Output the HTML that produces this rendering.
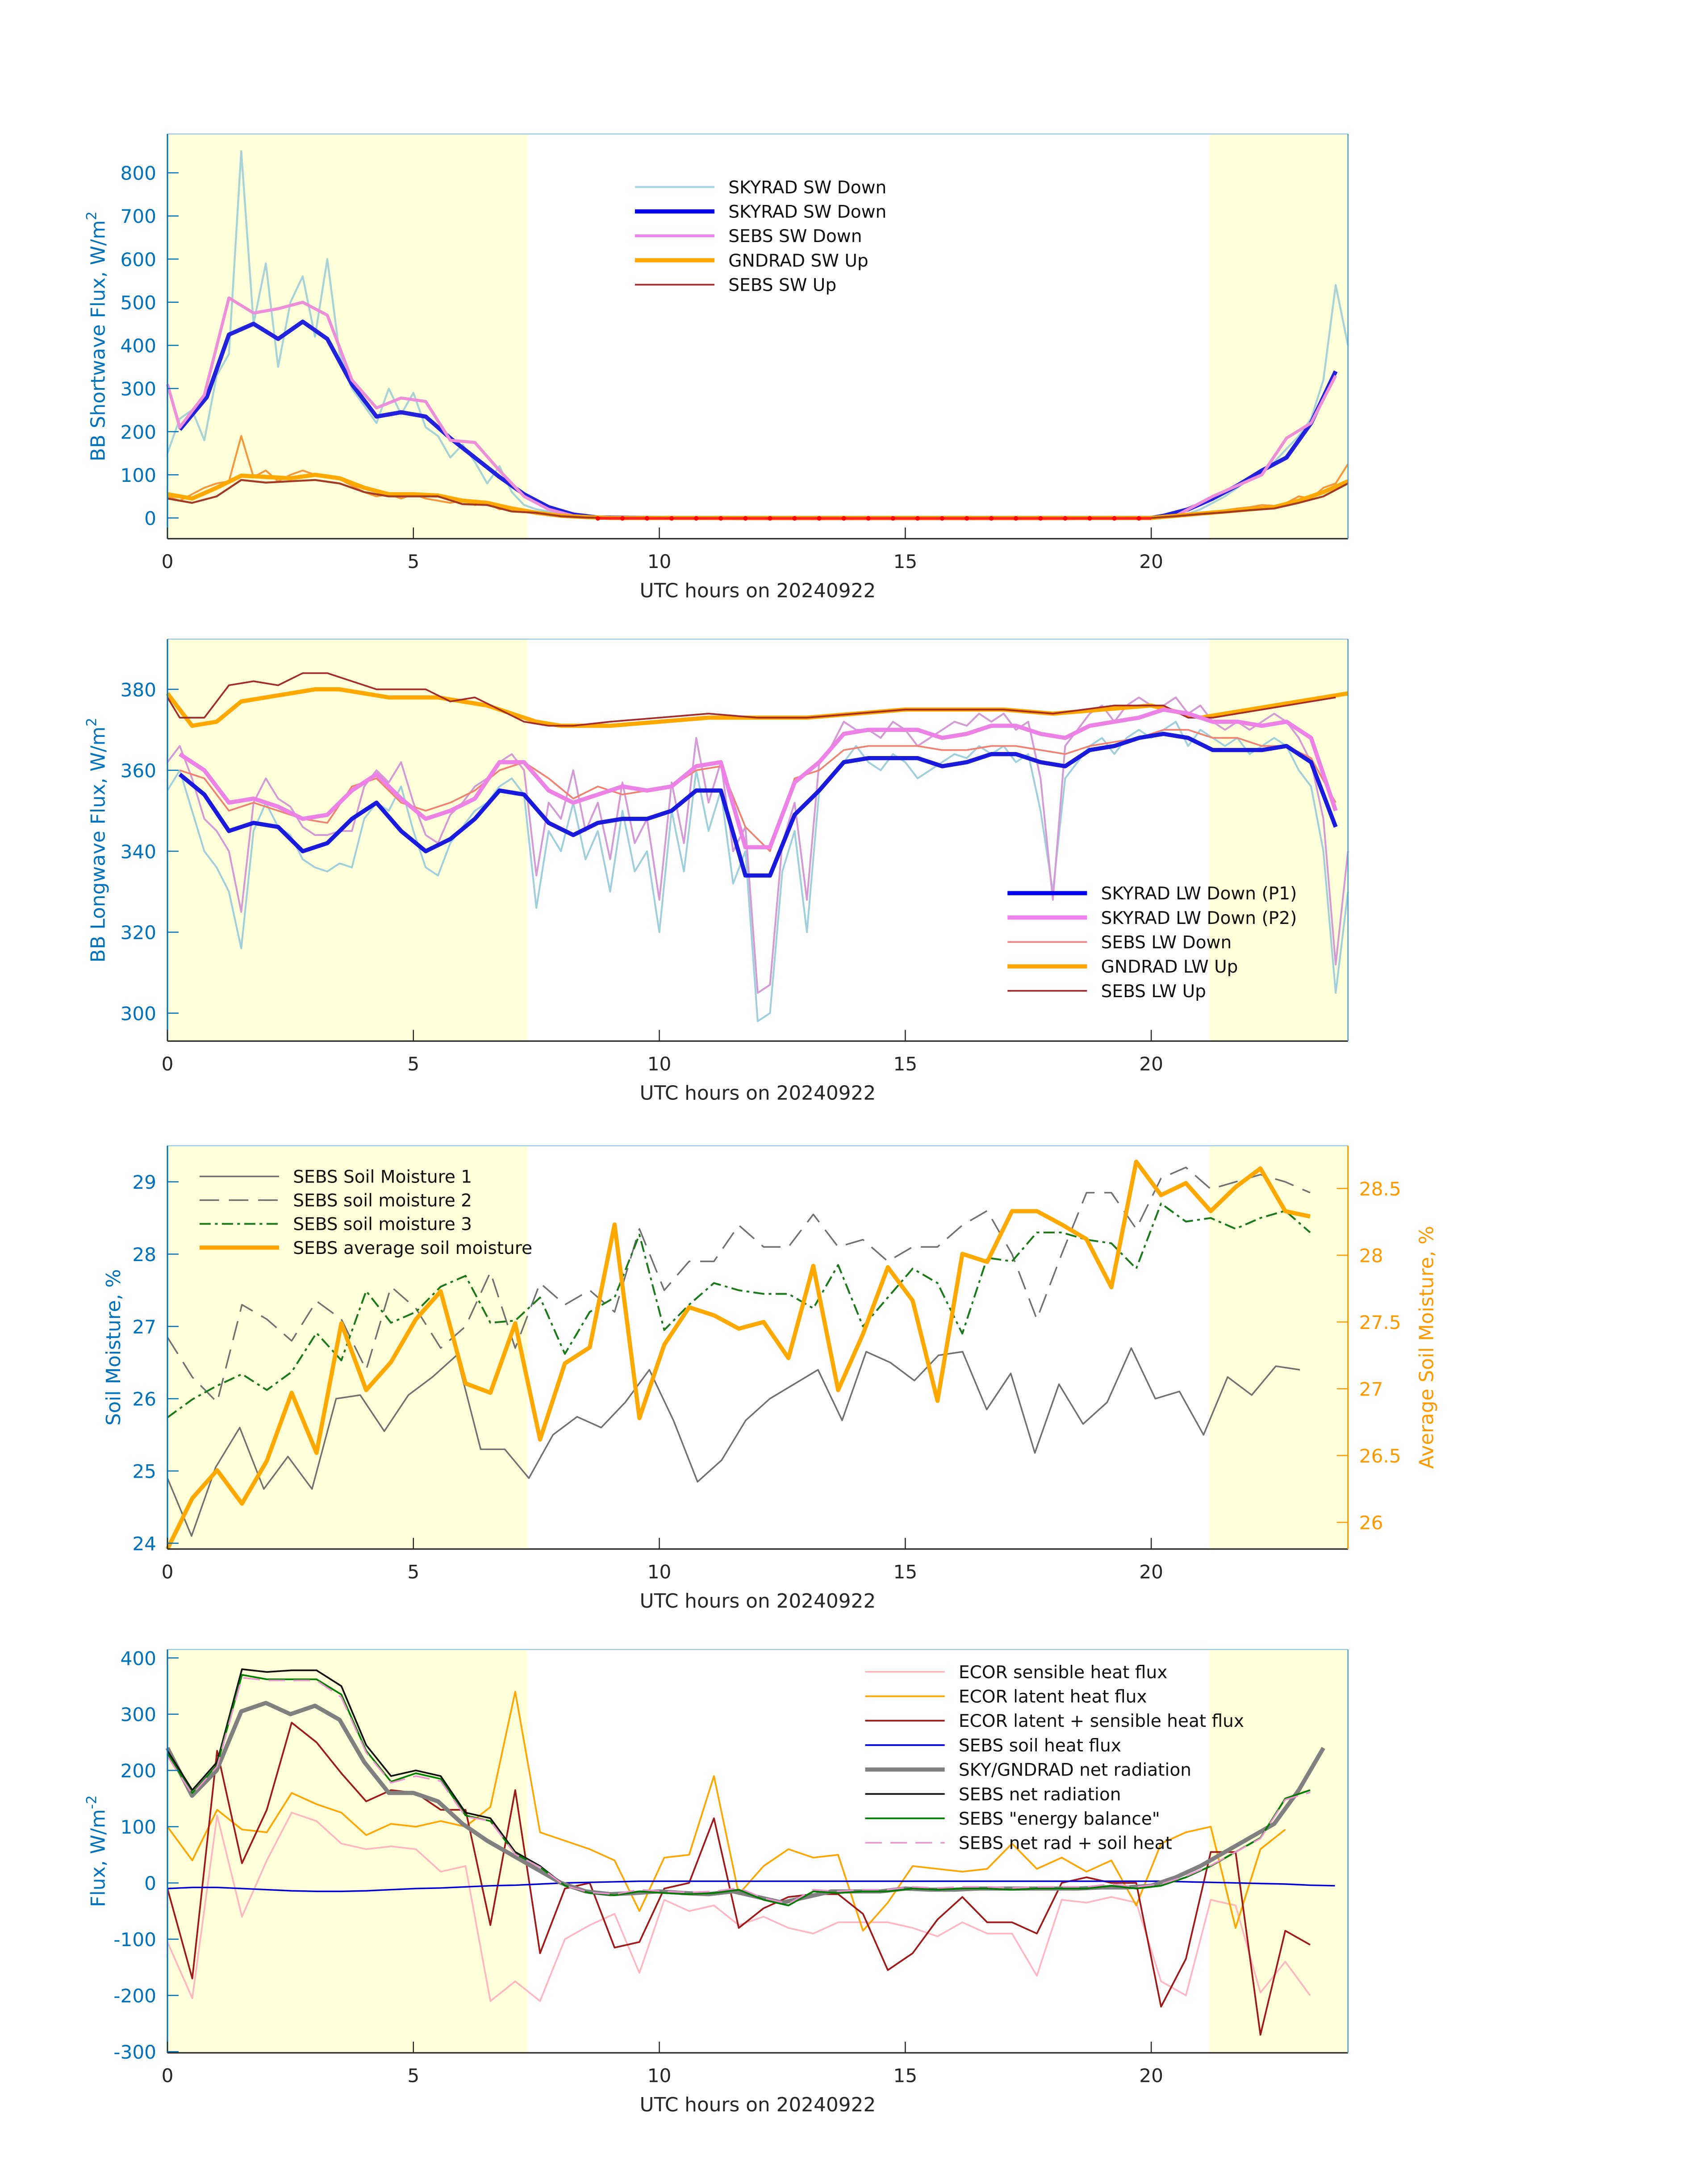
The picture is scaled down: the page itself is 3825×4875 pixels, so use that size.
<!DOCTYPE html>
<html><head><meta charset="utf-8"><style>
html,body{margin:0;padding:0;background:#fff;}
svg{display:block;}
text{font-family:"DejaVu Sans","Liberation Sans",sans-serif;}
</style></head><body>
<svg id="s" xmlns="http://www.w3.org/2000/svg" viewBox="0 0 1224 1560" width="3825" height="4875"></svg>
<script>
// ---------- Panel 1: shortwave ----------
const swTimes=[0.25,0.8,1.25,1.75,2.25,2.75,3.25,3.75,4.25,4.75,5.25,5.75,6.25,6.75,7.25,7.75,8.25,8.75,10,12,14,16,18,20,20.25,20.75,21.25,21.75,22.25,22.75,23.25,23.75];
const skySwDown=[205,280,425,450,415,455,415,310,235,245,235,185,140,95,55,25,8,1,0,0,0,0,0,0,5,20,45,75,110,140,220,340];
const sebsSwTimes=[0,0.25,0.75,1.25,1.75,2.25,2.75,3.25,3.75,4.25,4.75,5.25,5.75,6.25,6.75,7.25,7.75,8.25,9,12,15,18,20,20.5,21.25,22.25,22.75,23.25,23.75];
const sebsSwDown=[310,210,285,510,475,485,500,470,320,255,278,270,180,175,110,50,20,5,0,-2,-2,-2,0,5,50,100,185,220,330];
const gndTimes=[0,0.5,1,1.5,2,2.5,3,3.5,4,4.5,5,5.5,6,6.5,7,7.5,8,8.5,9,12,15,18,20,20.5,21,21.5,22,22.5,23,23.5,24];
const gndSwUp=[55,45,70,98,95,92,100,92,70,55,55,52,40,35,22,12,5,2,0,0,0,0,0,5,10,15,20,25,40,60,85];
const sebsSwUp=[45,35,50,88,82,85,88,80,60,50,50,50,32,30,15,12,4,1,0,-1,-1,-1,0,4,9,13,18,22,35,50,80];
const rawSwStart=0, rawSwStep=0.25;
const rawSkySw=[150,230,250,180,330,380,850,450,590,350,500,560,420,600,380,300,260,220,300,240,290,210,190,140,170,130,80,120,60,30,20,15,10,5,2,1,0];
const rawSkySwEnd=[0,2,5,10,20,35,50,70,90,110,130,160,190,230,320,540,400];
const rawGndSw=[50,40,55,70,80,85,190,95,110,85,100,110,100,95,90,75,60,50,55,45,55,45,40,35,40,30,35,20,25,15,12,10,6,4,2];
const rawGndSwEnd=[0,2,4,6,10,14,18,22,25,30,28,35,50,45,70,80,125];
const swTicks=[0,100,200,300,400,500,600,700,800];

// ---------- Panel 2: longwave ----------
const lwTimes=[0.25,0.75,1.25,1.75,2.25,2.75,3.25,3.75,4.25,4.75,5.25,5.75,6.25,6.75,7.25,7.75,8.25,8.75,9.25,9.75,10.25,10.75,11.25,11.75,12.25,12.75,13.25,13.75,14.25,14.75,15.25,15.75,16.25,16.75,17.25,17.75,18.25,18.75,19.25,19.75,20.25,20.75,21.25,21.75,22.25,22.75,23.25,23.75];
const skyLwP1=[359,354,345,347,346,340,342,348,352,345,340,343,348,355,354,347,344,347,348,348,350,355,355,334,334,349,355,362,363,363,363,361,362,364,364,362,361,365,366,368,369,368,365,365,365,366,362,346];
const skyLwP2=[364,360,352,353,351,348,349,355,359,353,348,350,353,362,362,355,352,354,356,355,356,361,362,341,341,357,362,369,370,370,370,368,369,371,371,369,368,371,372,373,375,374,372,372,371,372,368,350];
const sebsLwDown=[360,358,350,352,350,348,347,356,358,352,350,352,355,360,362,358,353,356,354,355,356,360,361,346,340,358,360,365,366,366,366,365,365,366,366,365,364,366,367,368,370,370,368,368,366,366,363,352];
const gndLwTimes=[0,0.5,1,1.5,2,2.5,3,3.5,4,4.5,5,5.5,6,6.5,7,7.5,8,9,10,11,12,13,14,15,16,17,18,19,20,21,22,23,24];
const gndLwUp=[379,371,372,377,378,379,380,380,379,378,378,378,377,376,374,372,371,371,372,373,373,373,374,375,375,375,374,375,376,373,375,377,379];
const sebsLwUpTimes=[0,0.25,0.75,1.25,1.75,2.25,2.75,3.25,3.75,4.25,4.75,5.25,5.75,6.25,6.75,7.25,7.75,8.25,9,10,11,12,13,14,15,16,17,18,19.25,19.75,20.25,20.75,21.25,21.75,22.25,22.75,23.25,23.75];
const sebsLwUp=[378,373,373,381,382,381,384,384,382,380,380,380,377,378,375,372,371,371,372,373,374,373,373,374,375,375,375,374,376,376,376,373,373,374,375,376,377,378];
const rawLwStep=0.25;
const rawSkyLw=[355,360,350,340,336,330,316,345,352,346,344,338,336,335,337,336,348,352,350,356,345,336,334,342,346,350,352,356,358,354,326,345,340,352,338,345,330,350,335,340,320,350,335,360,345,355,332,340,298,300,335,345,320,355,358,362,366,362,360,364,362,358,360,362,364,363,366,364,366,362,364,350,330,358,362,366,368,364,368,370,368,370,372,366,370,368,366,368,364,366,368,366,360,356,340,305,330];
const rawSkyLw2=[362,366,358,348,345,340,325,352,358,353,351,346,344,344,345,345,356,360,357,362,352,344,342,349,352,356,358,362,364,360,334,352,348,360,345,352,338,357,342,348,328,357,342,368,352,362,340,346,305,307,342,352,328,362,366,372,370,370,368,372,370,366,368,370,372,371,374,372,374,370,372,358,328,366,370,374,376,372,376,378,376,376,378,374,376,372,370,372,370,372,374,372,368,362,348,312,340];
const lwTicks=[300,320,340,360,380];

// ---------- Panel 3: soil moisture ----------
const smStep=0.505;
const soil1=[24.9,24.1,25.05,25.6,24.75,25.2,24.75,26.0,26.05,25.55,26.05,26.3,26.6,25.3,25.3,24.9,25.5,25.75,25.6,25.95,26.4,25.7,24.85,25.15,25.7,26.0,26.2,26.4,25.7,26.65,26.5,26.25,26.6,26.65,25.85,26.35,25.25,26.2,25.65,25.95,26.7,26.0,26.1,25.5,26.3,26.05,26.45,26.4];
const soil2=[26.85,26.3,25.95,27.3,27.1,26.8,27.35,27.1,26.4,27.55,27.25,26.7,27.0,27.75,26.7,27.6,27.3,27.5,27.2,28.35,27.5,27.9,27.9,28.4,28.1,28.1,28.55,28.1,28.2,27.9,28.1,28.1,28.4,28.6,28.0,27.1,28.0,28.85,28.85,28.35,29.05,29.2,28.9,29.0,29.1,29.0,28.85];
const soil3=[25.74,25.99,26.18,26.34,26.12,26.37,26.91,26.53,27.49,27.05,27.2,27.55,27.7,27.05,27.08,27.4,26.62,27.2,27.4,28.27,26.95,27.3,27.6,27.5,27.45,27.45,27.25,27.85,27.0,27.4,27.8,27.6,26.9,27.95,27.9,28.3,28.3,28.2,28.15,27.8,28.7,28.45,28.5,28.35,28.5,28.6,28.3];
const soilAvg=[25.80,26.18,26.39,26.14,26.46,26.97,26.52,27.49,26.99,27.20,27.52,27.73,27.04,26.97,27.49,26.62,27.19,27.31,28.23,26.78,27.33,27.61,27.55,27.45,27.50,27.23,27.92,26.99,27.41,27.91,27.66,26.91,28.01,27.95,28.33,28.33,28.23,28.12,27.76,28.70,28.45,28.54,28.33,28.51,28.65,28.33,28.29];
const smTicksL=[24,25,26,27,28,29];
const smTicksR=[26,26.5,27,27.5,28,28.5];
const smTickLabelsR=["26","26.5","27","27.5","28","28.5"];

// ---------- Panel 4: fluxes ----------
const fxStep=0.5;
const ecorSens=[-105,-205,120,-60,40,125,110,70,60,65,60,20,30,-210,-175,-210,-100,-75,-55,-160,-30,-50,-40,-75,-60,-80,-90,-70,-70,-70,-80,-95,-70,-90,-90,-165,-30,-35,-25,-35,-175,-200,-30,-40,-195,-140,-200];
const ecorLat=[100,40,130,95,90,160,140,125,85,105,100,110,100,135,340,90,75,60,40,-50,45,50,190,-20,30,60,45,50,-85,-35,30,25,20,25,70,25,45,20,40,-40,70,90,100,-80,60,95];
const ecorSum=[-10,-170,235,35,130,285,250,195,145,165,160,130,130,-75,165,-125,-10,0,-115,-105,-10,0,115,-80,-45,-25,-20,-20,-55,-155,-125,-65,-25,-70,-70,-90,0,10,0,0,-220,-135,55,55,-270,-85,-110];
const sebsSoil=[-10,-8,-8,-10,-12,-14,-15,-15,-14,-12,-10,-9,-7,-5,-4,-2,0,1,2,3,3,3,3,3,3,3,3,3,3,3,3,3,3,3,3,3,3,3,3,3,3,2,1,0,-1,-2,-4,-5];
const skyNet=[240,155,200,305,320,300,315,290,215,160,160,145,105,75,50,25,0,-15,-20,-18,-15,-18,-20,-15,-25,-35,-25,-15,-15,-15,-10,-12,-12,-10,-10,-10,-10,-10,-8,-8,-5,10,30,55,80,105,165,240];
const sebsNet=[235,165,215,380,375,378,378,350,245,190,200,190,125,115,55,30,-5,-18,-22,-15,-18,-20,-18,-12,-30,-40,-15,-18,-15,-15,-10,-12,-10,-10,-12,-10,-10,-10,-5,-10,-5,10,30,55,80,150,165];
const sebsBal=[230,160,210,370,362,362,362,335,235,180,195,185,120,110,52,28,-5,-18,-22,-15,-18,-20,-18,-12,-30,-40,-15,-18,-15,-15,-10,-12,-10,-10,-12,-10,-10,-10,-5,-10,-5,10,30,55,80,150,165];
const sebsNetSoil=[225,158,207,365,360,360,360,330,232,178,190,181,118,110,51,28,-5,-17,-20,-12,-15,-17,-15,-9,-27,-37,-12,-15,-12,-12,-7,-9,-7,-7,-9,-7,-7,-7,-2,-7,-2,12,31,55,79,148,161];
const fxTicks=[-300,-200,-100,0,100,200,300,400];

// ---------- drawing ----------
const NS="http://www.w3.org/2000/svg";
const svg=document.getElementById('s');
const X0=120,X1=966;
const sx=t=>X0+(t/24)*(X1-X0);
function mk(tag,attrs,parent){const e=document.createElementNS(NS,tag);for(const k in attrs)e.setAttribute(k,attrs[k]);(parent||svg).appendChild(e);return e;}
function scaleY(top,bot,ymin,ymax){return v=>bot-(v-ymin)/(ymax-ymin)*(bot-top);}
function seq(start,step,n){const a=[];for(let i=0;i<n;i++)a.push(start+i*step);return a;}
function series(name,ts,vs,sy,color,w,dash,op){
  let d='';for(let i=0;i<vs.length;i++){d+=(i?'L':'M')+sx(ts[i]).toFixed(2)+' '+sy(vs[i]).toFixed(2);}
  const p=mk('path',{d:d,fill:'none',stroke:color,'stroke-width':w,'stroke-linejoin':'round'});
  if(dash)p.setAttribute('stroke-dasharray',dash);
  if(op)p.setAttribute('stroke-opacity',op);
  
  
  return p;
}
function shading(top,bot){
  const r1=mk('rect',{x:X0,y:top,width:sx(7.32)-X0,height:bot-top,fill:'#ffffd9'});
  
  
  const r2=mk('rect',{x:sx(21.18),y:top,width:X1-sx(21.18),height:bot-top,fill:'#ffffd9'});
  
  
}
function axes(pfx,top,bot,sy,ticks,labels,ylabel,ycolor,xlabelY){
  const g=mk('g',{});
  
  
  mk('line',{x1:X0,y1:bot,x2:X1,y2:bot,stroke:'#262626','stroke-width':1},g);
  mk('line',{x1:X0,y1:top,x2:X1,y2:top,stroke:'#9ec9e6','stroke-width':0.8},g);
  mk('line',{x1:X1,y1:top,x2:X1,y2:bot,stroke:'#4a9ad0','stroke-width':0.8},g);
  mk('line',{x1:X0,y1:top,x2:X0,y2:bot,stroke:ycolor,'stroke-width':1},g);
  [0,5,10,15,20].forEach(t=>{
    mk('line',{x1:sx(t),y1:bot,x2:sx(t),y2:bot-8,stroke:'#262626','stroke-width':0.8},g);
    const tx=mk('text',{x:sx(t),y:bot+21,'text-anchor':'middle','font-size':13.5,fill:'#262626'},g);tx.textContent=t;
  });
  ticks.forEach((v,i)=>{
    mk('line',{x1:X0,y1:sy(v),x2:X0+8,y2:sy(v),stroke:ycolor,'stroke-width':0.8},g);
    const tx=mk('text',{x:X0-8,y:sy(v)+5,'text-anchor':'end','font-size':13.5,fill:ycolor},g);tx.textContent=labels?labels[i]:v;
  });
  const xl=mk('text',{x:543,y:xlabelY,'text-anchor':'middle','font-size':14,fill:'#262626'},g);
  xl.textContent='UTC hours on 20240922';
  
  
  const cy=(top+bot)/2;
  const yl=mk('text',{x:0,y:0,'text-anchor':'middle','font-size':14,fill:ycolor,transform:`translate(${pfx==='soil'?86:75},${cy}) rotate(-90)`},g);
  yl.innerHTML=ylabel;
  
  
}
function legend(pfx,x,y0,dy,entries){
  const g=mk('g',{});
  
  
  entries.forEach((e,i)=>{
    const y=y0+i*dy;
    const l=mk('line',{x1:x,y1:y,x2:x+57,y2:y,stroke:e[1],'stroke-width':e[2]},g);
    if(e[3])l.setAttribute('stroke-dasharray',e[3]);
    const t=mk('text',{x:x+67,y:y+4.5,'font-size':12.5,fill:'#111'},g);t.textContent=e[0];
    
    
  });
}

// Panel 1
(function(){
  const top=96,bot=386,sy=scaleY(top,bot,-48,890);
  shading(top,bot);
  series('skyrad-sw-raw',seq(0,rawSwStep,rawSkySw.length),rawSkySw,sy,'#a6d3d8',1.4);
  series('skyrad-sw-raw-zero',[9,20],[0,0],sy,'#a6d3d8',1.4);
  series('skyrad-sw-raw-end',seq(20,rawSwStep,rawSkySwEnd.length),rawSkySwEnd,sy,'#a6d3d8',1.4);
  series('gndrad-sw-raw',seq(0,rawSwStep,rawGndSw.length),rawGndSw,sy,'#f7953a',1.3);
  series('gndrad-sw-raw-end',seq(20,rawSwStep,rawGndSwEnd.length),rawGndSwEnd,sy,'#f7953a',1.3);
  series('skyrad-sw-down',swTimes,skySwDown,sy,'#2222dd',3);
  series('sebs-sw-down',sebsSwTimes,sebsSwDown,sy,'#ec8fd8',2.2);
  series('gndrad-sw-up',gndTimes,gndSwUp,sy,'#ffa800',3);
  series('sebs-sw-up',gndTimes,sebsSwUp,sy,'#a33a24',1.4);
  series('sebs-sw-zero',[8.75,20],[-1,-1],sy,'#ff2020',1.8);
  for(let t=8.75;t<20;t+=0.5){const c=mk('circle',{cx:sx(t),cy:sy(-1),r:1.6,fill:'#ff0000'});}
  axes('shortwave',top,bot,sy,swTicks,null,'BB Shortwave Flux, W/m<tspan font-size="10" dy="-6">2</tspan>','#0072bd',428);
  legend('shortwave',455,134,17.5,[['SKYRAD SW Down','#add8e6',1.5],['SKYRAD SW Down','#0000ee',3],['SEBS SW Down','#ee82ee',2],['GNDRAD SW Up','#ffa500',3],['SEBS SW Up','#a52a2a',1.2]]);
})();

// Panel 2
(function(){
  const top=458,bot=746,sy=scaleY(top,bot,293.1,392.4);
  shading(top,bot);
  series('skyrad-lw-raw-p1',seq(0,rawLwStep,rawSkyLw.length),rawSkyLw,sy,'#9fcfdc',1.3);
  series('skyrad-lw-raw-p2',seq(0,rawLwStep,rawSkyLw2.length),rawSkyLw2,sy,'#d49ad6',1.3);
  series('sebs-lw-down',lwTimes,sebsLwDown,sy,'#f08070',1.2);
  series('gndrad-lw-up',gndLwTimes,gndLwUp,sy,'#ffa800',3);
  series('sebs-lw-up',sebsLwUpTimes,sebsLwUp,sy,'#a52a2a',1.2);
  series('skyrad-lw-down-p1',lwTimes,skyLwP1,sy,'#1a1add',3);
  series('skyrad-lw-down-p2',lwTimes,skyLwP2,sy,'#ec82e6',3);
  axes('longwave',top,bot,sy,lwTicks,null,'BB Longwave Flux, W/m<tspan font-size="10" dy="-6">2</tspan>','#0072bd',788);
  legend('longwave',722,640,17.5,[['SKYRAD LW Down (P1)','#0000ee',3],['SKYRAD LW Down (P2)','#ee82ee',3],['SEBS LW Down','#f08080',1.2],['GNDRAD LW Up','#ffa500',3],['SEBS LW Up','#a52a2a',1.2]]);
})();

// Panel 3
(function(){
  const top=821,bot=1110,sy=scaleY(top,bot,23.92,29.5),syR=scaleY(top,bot,25.8,28.82);
  shading(top,bot);
  series('soil-moisture-1',seq(0,smStep,soil1.length).map(t=>t*0.97),soil1,sy,'#707070',1.1);
  series('soil-moisture-2',seq(0,smStep,soil2.length),soil2,sy,'#707070',1.1,'14 7');
  series('soil-moisture-3',seq(0,smStep,soil3.length),soil3,sy,'#1a7a1a',1.3,'8 3 2 3');
  series('average-soil-moisture',seq(0,smStep,soilAvg.length),soilAvg,syR,'#ffa800',3);
  axes('soil',top,bot,sy,smTicksL,null,'Soil Moisture, %','#0072bd',1152);
  const g=mk('g',{});
  mk('line',{x1:X1,y1:top,x2:X1,y2:bot,stroke:'#ff9900','stroke-width':1},g);
  smTicksR.forEach((v,i)=>{mk('line',{x1:X1,y1:syR(v),x2:X1-8,y2:syR(v),stroke:'#ff9900','stroke-width':0.8},g);const t=mk('text',{x:X1+8,y:syR(v)+5,'font-size':13.5,fill:'#ff9900'},g);t.textContent=smTickLabelsR[i];});
  const yr=mk('text',{x:0,y:0,'text-anchor':'middle','font-size':14,fill:'#ff9900',transform:`translate(1027,${(top+bot)/2}) rotate(-90)`},g);yr.textContent='Average Soil Moisture, %';
  legend('soil',143,843,17,[['SEBS Soil Moisture 1','#707070',1.1],['SEBS soil moisture 2','#707070',1.1,'14 7'],['SEBS soil moisture 3','#1a7a1a',1.3,'8 3 2 3'],['SEBS average soil moisture','#ffa500',3]]);
})();

// Panel 4
(function(){
  const top=1182,bot=1471,sy=scaleY(top,bot,-302,415);
  shading(top,bot);
  const t47=seq(0,0.505,47), t48=seq(0,0.5,48);
  series('ecor-sensible-heat-flux',t47,ecorSens,sy,'#ffb6c1',1.2);
  series('ecor-latent-heat-flux',t47,ecorLat,sy,'#ffa500',1.2);
  series('ecor-latent-plus-sensible',t47,ecorSum,sy,'#a01818',1.2);
  series('sebs-soil-heat-flux',seq(0,0.505,48),sebsSoil,sy,'#0000dd',1.1);
  series('sky-gndrad-net-radiation',t48,skyNet,sy,'#808080',3);
  series('sebs-net-radiation',t47,sebsNet,sy,'#111111',1.2);
  series('sebs-energy-balance',t47,sebsBal,sy,'#008000',1.2);
  series('sebs-net-rad-plus-soil-heat',t47,sebsNetSoil,sy,'#ee90d0',1.1,'12 6');
  axes('flux',top,bot,sy,fxTicks,null,'Flux, W/m<tspan font-size="10" dy="-6">-2</tspan>','#0072bd',1513);
  legend('flux',620,1198,17.5,[['ECOR sensible heat flux','#ffb6c1',1.2],['ECOR latent heat flux','#ffa500',1.2],['ECOR latent + sensible heat flux','#a01818',1.2],['SEBS soil heat flux','#0000dd',1.2],['SKY/GNDRAD net radiation','#808080',3],['SEBS net radiation','#111',1.2],['SEBS "energy balance"','#008000',1.2],['SEBS net rad + soil heat','#ee90d0',1.1,'12 6']]);
})();
</script>
</body></html>
